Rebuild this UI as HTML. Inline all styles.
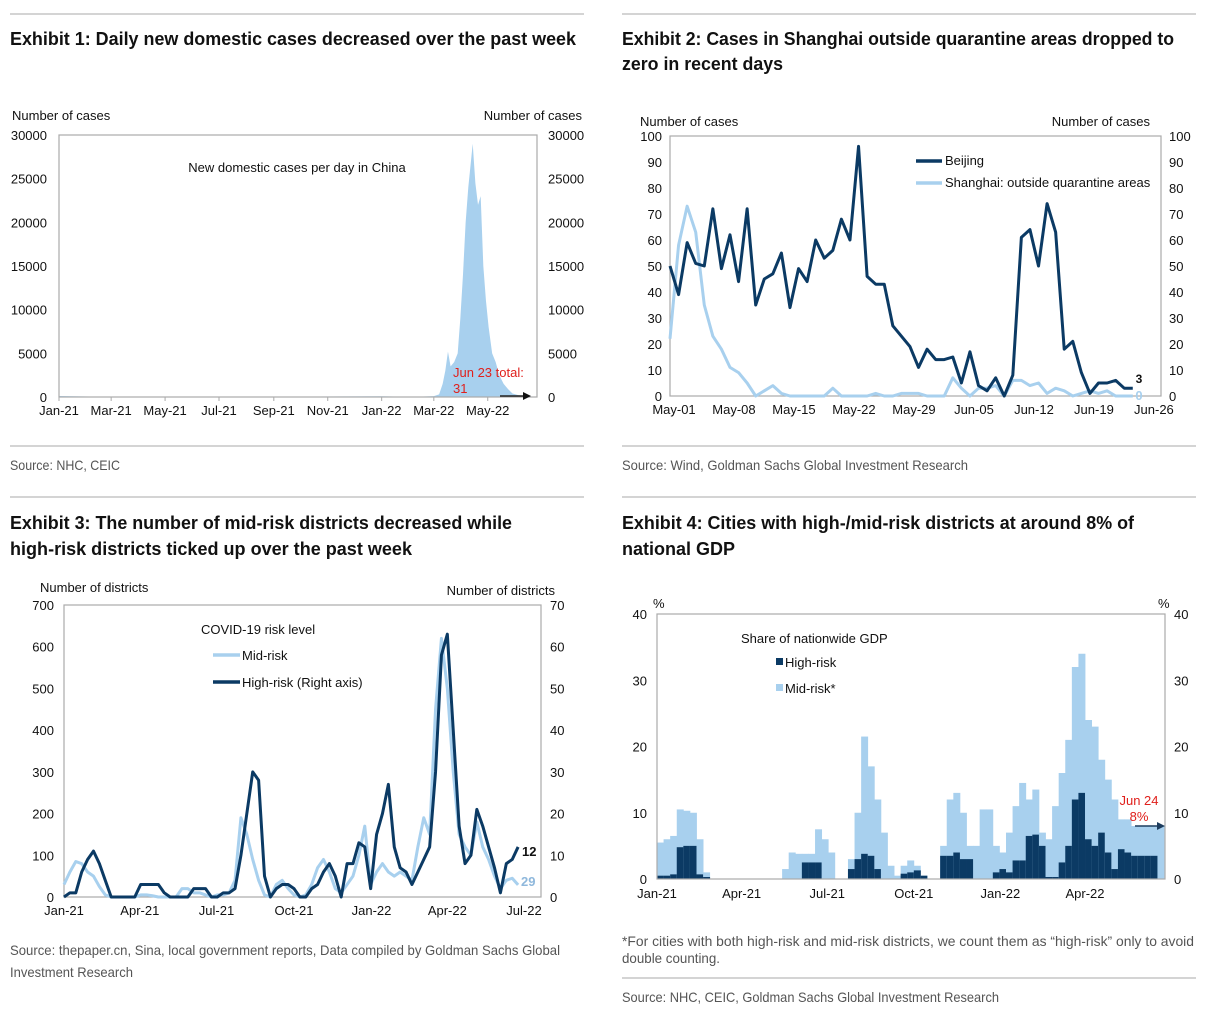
<!DOCTYPE html>
<html><head><meta charset="utf-8"><style>
html,body{margin:0;padding:0;background:#fff;}
svg{display:block;font-family:"Liberation Sans",Arial,sans-serif;}
.tk{font-size:13px;fill:#111;}
.ttl{font-size:18px;font-weight:bold;fill:#111;}
.src{font-size:14px;fill:#555;}
</style></head><body>
<svg id="root" width="1206" height="1010" viewBox="0 0 1206 1010">
<g stroke="#bbb" stroke-width="1.2">
<line x1="10" y1="14" x2="584" y2="14"/><line x1="622" y1="14" x2="1196" y2="14"/>
<line x1="10" y1="446" x2="584" y2="446"/><line x1="622" y1="446" x2="1196" y2="446"/>
<line x1="10" y1="497" x2="584" y2="497"/><line x1="622" y1="497" x2="1196" y2="497"/>
<line x1="622" y1="978" x2="1196" y2="978"/>
</g>
<text class="ttl" x="10" y="45" textLength="566" lengthAdjust="spacingAndGlyphs">Exhibit 1: Daily new domestic cases decreased over the past week</text>
<text class="ttl" x="622" y="45" textLength="552" lengthAdjust="spacingAndGlyphs">Exhibit 2: Cases in Shanghai outside quarantine areas dropped to</text>
<text class="ttl" x="622" y="70" textLength="161" lengthAdjust="spacingAndGlyphs">zero in recent days</text>
<text class="ttl" x="10" y="529" textLength="502" lengthAdjust="spacingAndGlyphs">Exhibit 3: The number of mid-risk districts decreased while</text>
<text class="ttl" x="10" y="555" textLength="402" lengthAdjust="spacingAndGlyphs">high-risk districts ticked up over the past week</text>
<text class="ttl" x="622" y="529" textLength="512" lengthAdjust="spacingAndGlyphs">Exhibit 4: Cities with high-/mid-risk districts at around 8% of</text>
<text class="ttl" x="622" y="555" textLength="113" lengthAdjust="spacingAndGlyphs">national GDP</text>
<text class="src" x="10" y="470" textLength="110" lengthAdjust="spacingAndGlyphs">Source: NHC, CEIC</text>
<text class="src" x="622" y="470" textLength="346" lengthAdjust="spacingAndGlyphs">Source: Wind, Goldman Sachs Global Investment Research</text>
<text class="src" x="10" y="955" textLength="550" lengthAdjust="spacingAndGlyphs">Source: thepaper.cn, Sina, local government reports, Data compiled by Goldman Sachs Global</text>
<text class="src" x="10" y="977" textLength="123" lengthAdjust="spacingAndGlyphs">Investment Research</text>
<text class="src" x="622" y="946" textLength="572" lengthAdjust="spacingAndGlyphs">*For cities with both high-risk and mid-risk districts, we count them as “high-risk” only to avoid</text>
<text class="src" x="622" y="963" textLength="98" lengthAdjust="spacingAndGlyphs">double counting.</text>
<text class="src" x="622" y="1002" textLength="377" lengthAdjust="spacingAndGlyphs">Source: NHC, CEIC, Goldman Sachs Global Investment Research</text>
</svg>
<script>
// ---- Exhibit 1 data ----
const caseDays = [0,60,200,365,400,424,430,434,437,440,443,447,451,454,457,460,463,466,468,471,474,477,480,483,486,490,494,498,503,508,513,520,530,538];
const caseValues = [120,20,20,80,20,100,300,1500,3000,5200,3500,4000,5000,9000,14000,20000,24000,27000,29000,24500,22000,23000,15000,11000,8000,5000,4000,2500,1500,900,400,200,100,31];
const p1TickLabels = ["Jan-21","Mar-21","May-21","Jul-21","Sep-21","Nov-21","Jan-22","Mar-22","May-22"];
const p1TickDays = [0,59,120,181,243,304,365,424,485];
const p1YTicks = [0,5000,10000,15000,20000,25000,30000];
// ---- Exhibit 2 data ----
const beijing = [50,39,59,51,50,72,49,62,44,72,35,45,47,55,34,49,44,60,53,56,68,60,96,46,43,43,27,23,19,11,18,14,14,15,5,17,4,2,7,0,8,61,64,50,74,63,18,21,9,1,5,5,6,3,3];
const shanghai = [22,58,73,63,35,23,18,11,9,5,0,2,4,1,0,0,0,0,0,3,0,0,0,0,1,0,0,1,1,1,0,0,0,7,3,0,3,3,4,0,6,6,4,5,1,3,2,0,1,2,1,2,0,0,0];
const p2TickLabels = ["May-01","May-08","May-15","May-22","May-29","Jun-05","Jun-12","Jun-19","Jun-26"];
const p2YTicks = [0,10,20,30,40,50,60,70,80,90,100];
// ---- Exhibit 3 data (weekly) ----
const highRisk = [0,1,1,6,9,11,8,4,0,0,0,0,0,3,3,3,3,1,0,0,0,0,2,2,2,0,0,1,1,2,10,20,30,28,5,0,2,3,3,2,0,0,2,3,6,8,5,0,8,8,13,12,2,15,20,27,12,7,6,3,6,9,12,30,58,63,40,17,8,10,21,17,12,7,1,8,9,12];
const midRisk = [30,60,85,80,60,50,25,5,0,0,0,0,0,5,5,3,0,0,0,0,20,20,10,10,5,0,5,5,10,40,190,150,90,40,5,0,30,40,20,5,0,5,30,70,90,60,20,10,30,50,100,170,30,60,80,60,50,60,50,40,120,190,150,450,620,500,300,150,120,100,180,120,90,50,20,40,45,29];
const p3TickLabels = ["Jan-21","Apr-21","Jul-21","Oct-21","Jan-22","Apr-22","Jul-22"];
const p3TickDays = [0,90,181,273,365,455,546];
const p3YLeft = [0,100,200,300,400,500,600,700];
const p3YRight = [0,10,20,30,40,50,60,70];
// ---- Exhibit 4 data (weekly) ----
const gdpTotal = [5.5,6,6.5,10.5,10.3,10,6,1,0,0,0,0,0,0,0,0,0,0,0,1.5,4,3.8,3.8,3.8,7.5,6,4,0,0,3,10,21.5,17,12,7,2,0.5,2,2.8,2,0.5,0,0,5,12,13,10,5,5,10.5,10.5,5,4,7,11,14.5,12,13.5,7,6,11,16,21,32,34,24,23,18,15,12,9,9,8,8,8,8,8];
const gdpHigh = [0.5,0.5,0.7,4.8,5,5,0.7,0.3,0,0,0,0,0,0,0,0,0,0,0,0,0,0,2.5,2.5,2.5,0,0,0,0,1.5,3,3.8,3.5,1.5,0,0,0,0.8,1,1.3,0.5,0,0,3.5,3.5,4,3,3,0,0,0,1,1.5,1,2.8,2.8,6.5,6.7,5,0.3,0.3,2.5,5,12,13,6,5,7,4,1.5,4.5,4,3.5,3.5,3.5,3.5,0];
const p4TickLabels = ["Jan-21","Apr-21","Jul-21","Oct-21","Jan-22","Apr-22"];
const p4TickDays = [0,90,181,273,365,455];
const p4YTicks = [0,10,20,30,40];

const NS = "http://www.w3.org/2000/svg";
const root = document.getElementById("root");
function mk(tag, attrs, parent) {
  const e = document.createElementNS(NS, tag);
  for (const k in attrs) e.setAttribute(k, attrs[k]);
  (parent || root).appendChild(e);
  return e;
}
function txt(x, y, s, anchor, cls, parent) {
  const t = mk("text", {x: x, y: y, "text-anchor": anchor || "start", class: cls || "tk"}, parent);
  t.textContent = s;
  return t;
}
function frame(x0, y0, x1, y1) {
  const r = mk("rect", {x: x0, y: y1, width: x1 - x0, height: y0 - y1, fill: "none", stroke: "#aaa", "stroke-width": 1.2});
  
  
}
const DARK = "#0b3a64", LIGHT = "#a8d0ee";

// ===== Exhibit 1 =====
(function () {
  const x0 = 59, x1 = 537, y0 = 397, y1 = 135;
  const xd = d => x0 + d * 0.884;
  const yv = v => y0 - v * (y0 - y1) / 30000;
  const g = mk("g", {});
  
  
  let pts = [[xd(caseDays[0]), y0]];
  caseDays.forEach((d, i) => {
    pts.push([xd(d), yv(caseValues[i])]);
  });
  pts.push([xd(caseDays[caseDays.length - 1]), y0]);
  const area = mk("polygon", {points: pts.map(p => p.join(",")).join(" "), fill: LIGHT}, g);
  
  
  frame(x0, y0, x1, y1);
  p1YTicks.forEach(v => {
    const l = txt(x0 - 12, yv(v) + 5, String(v), "end");
    
    
    const r = txt(x1 + 11, yv(v) + 5, String(v), "start");
    
    
  });
  p1TickLabels.forEach((s, i) => {
    const t = txt(xd(p1TickDays[i]), 415, s, "middle");
    
    
    mk("line", {x1: xd(p1TickDays[i]), x2: xd(p1TickDays[i]), y1: y0, y2: y0 + 4, stroke: "#aaa"});
  });
  const a = txt(12, 120, "Number of cases", "start");
  
  
  const b = txt(582, 120, "Number of cases", "end");
  
  
  const c = txt(297, 172, "New domestic cases per day in China", "middle");
  
  
  const r1 = txt(453, 377, "Jun 23 total:", "start");
  r1.style.fill = '#e0201c';
  
  
  const r2 = txt(453, 393, "31", "start");
  r2.style.fill = '#e0201c';
  
  
  const ar = mk("line", {x1: 500, y1: 396, x2: 524, y2: 396, stroke: "#222", "stroke-width": 1.5});
  
  
  const ah = mk("polygon", {points: "523,392 531,396 523,400", fill: "#111"});
  
  
})();

// ===== Exhibit 2 =====
(function () {
  const x0 = 670, x1 = 1161, y0 = 396, y1 = 136;
  const xd = d => x0 + d * 8.57;
  const yv = v => y0 - v * (y0 - y1) / 100;
  frame(x0, y0, x1, y1);
  p2YTicks.forEach(v => {
    const l = txt(x0 - 8, yv(v) + 5, String(v), "end");
    
    
    const r = txt(x1 + 8, yv(v) + 5, String(v), "start");
    
    
  });
  p2TickLabels.forEach((s, i) => {
    const t = txt(xd(i * 7) + 4, 414, s, "middle");
    
    
  });
  const sh = mk("polyline", {points: shanghai.map((v, i) => xd(i) + "," + yv(v)).join(" "), fill: "none", stroke: LIGHT, "stroke-width": 3, "stroke-linejoin": "round"});
  
  
  const bj = mk("polyline", {points: beijing.map((v, i) => xd(i) + "," + yv(v)).join(" "), fill: "none", stroke: DARK, "stroke-width": 3, "stroke-linejoin": "round"});
  
  
  const a = txt(640, 126, "Number of cases", "start");
  
  
  const b = txt(1150, 126, "Number of cases", "end");
  
  
  const l1 = mk("line", {x1: 916, y1: 161, x2: 942, y2: 161, stroke: DARK, "stroke-width": 3.5});
  
  
  const t1 = txt(945, 165, "Beijing", "start");
  
  
  const l2 = mk("line", {x1: 916, y1: 183, x2: 942, y2: 183, stroke: LIGHT, "stroke-width": 3.5});
  
  
  const t2 = txt(945, 187, "Shanghai: outside quarantine areas", "start");
  
  
  const v1 = txt(1139, 383, String(beijing[beijing.length - 1]), "middle");
  v1.style.fontWeight = 'bold';
  v1.style.fontSize = '12px';
  
  
  const v2 = txt(1139, 400, String(shanghai[shanghai.length - 1]), "middle");
  v2.style.fill = LIGHT;
  v2.style.fontWeight = 'bold';
  
  
})();

// ===== Exhibit 3 =====
(function () {
  const x0 = 64, x1 = 541, y0 = 897, y1 = 605;
  const xd = d => x0 + d * 0.8425;
  const yl = v => y0 - v * (y0 - y1) / 700;
  const yr = v => y0 - v * (y0 - y1) / 70;
  frame(x0, y0, x1, y1);
  p3YLeft.forEach(v => {
    const l = txt(x0 - 10, yl(v) + 5, String(v), "end");
    
    
  });
  p3YRight.forEach(v => {
    const r = txt(x1 + 9, yr(v) + 5, String(v), "start");
    
    
  });
  p3TickLabels.forEach((s, i) => {
    const t = txt(xd(p3TickDays[i]), 915, s, "middle");
    
    
  });
  const mid = mk("polyline", {points: midRisk.map((v, i) => xd(i * 7) + "," + yl(v)).join(" "), fill: "none", stroke: LIGHT, "stroke-width": 3, "stroke-linejoin": "round"});
  
  
  const hi = mk("polyline", {points: highRisk.map((v, i) => xd(i * 7) + "," + yr(v)).join(" "), fill: "none", stroke: DARK, "stroke-width": 3, "stroke-linejoin": "round"});
  
  
  const a = txt(40, 592, "Number of districts", "start");
  
  
  const b = txt(555, 595, "Number of districts", "end");
  
  
  const c = txt(201, 634, "COVID-19 risk level", "start");
  
  
  const l1 = mk("line", {x1: 213, y1: 655, x2: 240, y2: 655, stroke: LIGHT, "stroke-width": 3.5});
  
  
  const t1 = txt(242, 660, "Mid-risk", "start");
  
  
  const l2 = mk("line", {x1: 213, y1: 682, x2: 240, y2: 682, stroke: DARK, "stroke-width": 3.5});
  
  
  const t2 = txt(242, 687, "High-risk (Right axis)", "start");
  
  
  const v1 = txt(522, 856, String(highRisk[highRisk.length - 1]), "start");
  v1.style.fontWeight = 'bold';
  
  
  const v2 = txt(521, 886, String(midRisk[midRisk.length - 1]), "start");
  v2.style.fontWeight = 'bold';
  v2.style.fill = '#8fb8dc';
  
  
})();

// ===== Exhibit 4 =====
(function () {
  const x0 = 657, x1 = 1165, y0 = 879, y1 = 614;
  const xd = d => x0 + d * 0.9407;
  const yv = v => y0 - v * (y0 - y1) / 40;
  gdpTotal.forEach((v, i) => {
    const xa = xd(i * 7), xb = Math.min(xd(i * 7 + 7), x1);
    if (v > 0) {
      const r = mk("rect", {x: xa, y: yv(v), width: xb - xa + 0.4, height: y0 - yv(v), fill: LIGHT});
      
      
    }
    const h = gdpHigh[i];
    if (h > 0) {
      const r2 = mk("rect", {x: xa, y: yv(h), width: xb - xa + 0.4, height: y0 - yv(h), fill: DARK});
      
      
    }
  });
  frame(x0, y0, x1, y1);
  p4YTicks.forEach(v => {
    const l = txt(x0 - 10, yv(v) + 5, String(v), "end");
    
    
    const r = txt(x1 + 9, yv(v) + 5, String(v), "start");
    
    
  });
  p4TickLabels.forEach((s, i) => {
    const t = txt(xd(p4TickDays[i]), 898, s, "middle");
    
    
  });
  const a = txt(653, 608, "%", "start");
  
  
  const b = txt(1158, 608, "%", "start");
  
  
  const c = txt(741, 643, "Share of nationwide GDP", "start");
  
  
  const s1 = mk("rect", {x: 776, y: 658, width: 7, height: 7, fill: DARK});
  
  
  const t1 = txt(785, 667, "High-risk", "start");
  
  
  const s2 = mk("rect", {x: 776, y: 684, width: 7, height: 7, fill: LIGHT});
  
  
  const t2 = txt(785, 693, "Mid-risk*", "start");
  
  
  const r1 = txt(1139, 805, "Jun 24", "middle");
  r1.style.fill = '#e0201c';
  
  
  const r2 = txt(1139, 821, "8%", "middle");
  r2.style.fill = '#e0201c';
  
  
  const ar = mk("line", {x1: 1135, y1: 826, x2: 1158, y2: 826, stroke: "#1d3d5e", "stroke-width": 1.5});
  
  
  const ah = mk("polygon", {points: "1157,822 1165,826 1157,830", fill: "#1d3d5e"});
  
  
})();
</script>
</body></html>
